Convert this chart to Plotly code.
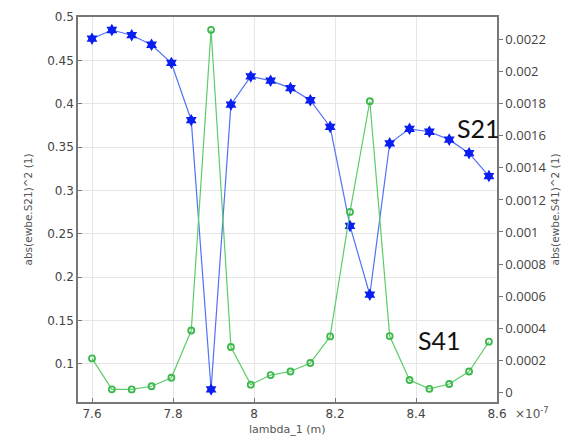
import numpy as np
import plotly.graph_objects as go

# wavelength sweep, in units of 1e-7 m
lambda_1 = [7.600, 7.649, 7.698, 7.747, 7.796, 7.845, 7.894, 7.943, 7.992, 8.041,
            8.090, 8.139, 8.188, 8.237, 8.286, 8.335, 8.384, 8.433, 8.482, 8.531, 8.580]

# |S21|^2 (left axis)
s21_sq = [0.475, 0.485, 0.479, 0.468, 0.447, 0.381, 0.0706, 0.399, 0.4315, 0.4266,
          0.418, 0.404, 0.3733, 0.2591, 0.1798, 0.3544, 0.3711, 0.3677, 0.3586, 0.343, 0.3166]

# |S41|^2 (right axis)
s41_sq = [0.000211, 0.000018, 0.000017, 0.000037, 0.000090, 0.000385, 0.002262, 0.000282,
          0.000047, 0.000107, 0.000129, 0.000182, 0.000348, 0.001125, 0.001816, 0.000350,
          0.000076, 0.000021, 0.000051, 0.000129, 0.000315]

x_ticks = [7.6, 7.8, 8.0, 8.2, 8.4, 8.6]
x_tick_text = ["7.6", "7.8", "8", "8.2", "8.4", "8.6"]
left_ticks = [0.1, 0.15, 0.2, 0.25, 0.3, 0.35, 0.4, 0.45, 0.5]
left_tick_text = ["0.1", "0.15", "0.2", "0.25", "0.3", "0.35", "0.4", "0.45", "0.5"]
right_ticks = [0, 0.0002, 0.0004, 0.0006, 0.0008, 0.001, 0.0012, 0.0014,
               0.0016, 0.0018, 0.002, 0.0022]
right_tick_text = ["0", "0.0002", "0.0004", "0.0006", "0.0008", "0.001", "0.0012",
                   "0.0014", "0.0016", "0.0018", "0.002", "0.0022"]

tick_font = dict(family="DejaVu Sans", size=12, color="#444444")
title_font = dict(family="DejaVu Sans", size=10.5, color="#555555")

# plot area in pixels, used to place the curve labels
PX_L, PX_R, PX_T, PX_B = 78, 498, 10, 401.7


def px_to_paper(px, py):
    return (px - PX_L) / (PX_R - PX_L), (PX_B - py) / (PX_B - PX_T)


fig = go.Figure()

fig.add_trace(go.Scatter(
    x=lambda_1, y=s41_sq, yaxis="y2", mode="lines+markers",
    line=dict(color="#5ccc6a", width=1.2),
    marker=dict(symbol="circle-open", size=6, color="#3cb84c", line=dict(width=1.8)),
    showlegend=False,
))
fig.add_trace(go.Scatter(
    x=lambda_1, y=s21_sq, yaxis="y", mode="lines+markers",
    line=dict(color="#5272f5", width=1.2),
    marker=dict(symbol="hexagram", size=9.5, color="#0a1ef0", line=dict(width=0)),
    showlegend=False,
))

s21_x, s21_y = px_to_paper(479, 123)
s41_x, s41_y = px_to_paper(440, 339)

fig.update_layout(
    width=570, height=437,
    margin=dict(l=78, r=72, t=10, b=35),
    paper_bgcolor="white", plot_bgcolor="white",
    xaxis=dict(
        range=[7.5654, 8.6], tickvals=x_ticks, ticktext=x_tick_text,
        showgrid=True, gridcolor="#e6e6e6", gridwidth=1,
        showline=True, linecolor="#777777", linewidth=1.5, mirror=True,
        ticks="inside", ticklen=4, tickcolor="#777777",
        tickfont=tick_font, zeroline=False,
    ),
    yaxis=dict(
        range=[0.0561, 0.5], tickvals=left_ticks, ticktext=left_tick_text,
        showgrid=True, gridcolor="#e6e6e6", gridwidth=1,
        showline=True, linecolor="#777777", linewidth=1.5,
        ticks="inside", ticklen=4, tickcolor="#777777",
        tickfont=tick_font, zeroline=False,
        title=dict(text="abs(ewbe.S21)^2 (1)", font=title_font, standoff=12),
    ),
    yaxis2=dict(
        overlaying="y", side="right",
        range=[-0.0000613, 0.002342], tickvals=right_ticks, ticktext=right_tick_text,
        showgrid=False,
        showline=True, linecolor="#777777", linewidth=1.5,
        ticks="outside", ticklen=4, tickcolor="#777777",
        tickfont=dict(family="Open Sans", size=13, color="#444444"), zeroline=False,
        title=dict(text="abs(ewbe.S41)^2 (1)", font=title_font, standoff=6),
    ),
    annotations=[
        dict(text="lambda_1 (m)", xref="paper", yref="paper", x=0.5, y=0,
             yshift=-27, showarrow=False, xanchor="center", yanchor="middle",
             font=dict(family="DejaVu Sans", size=11, color="#555555")),
        dict(text="×10<sup>-7</sup>", xref="paper", yref="paper", x=1.0, y=0,
             xshift=16, yshift=-11, showarrow=False, xanchor="left", yanchor="middle",
             font=dict(family="DejaVu Sans", size=12, color="#555555")),
        dict(text="S21", xref="paper", yref="paper", x=s21_x, y=s21_y,
             showarrow=False, xanchor="center", yanchor="middle",
             font=dict(family="Lato", size=25, color="#111111")),
        dict(text="S41", xref="paper", yref="paper", x=s41_x, y=s41_y,
             showarrow=False, xanchor="center", yanchor="middle",
             font=dict(family="Lato", size=25, color="#111111")),
    ],
)

fig.write_html("out.html")
